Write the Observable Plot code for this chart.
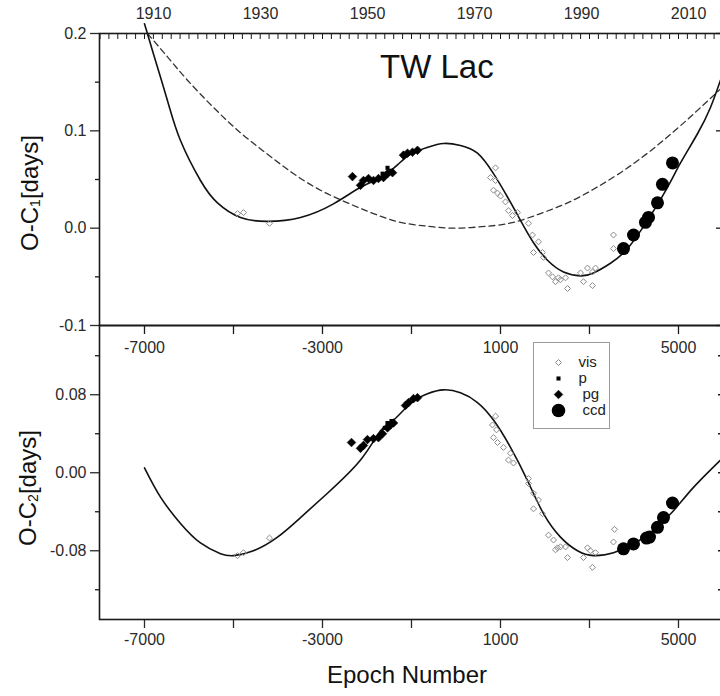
<!DOCTYPE html>
<html><head><meta charset="utf-8">
<script src="https://cdn.jsdelivr.net/npm/d3@7"></script>
<script src="https://cdn.jsdelivr.net/npm/@observablehq/plot@0.6"></script>
<style>
html,body{margin:0;padding:0;background:#fff;overflow:hidden;width:720px;height:696px;}
#root{position:relative;width:720px;height:696px;overflow:hidden;font-family:"Liberation Sans",Arial,sans-serif;color:#111;}
#root svg, #root svg text{font-family:"Liberation Sans",Arial,sans-serif !important;}
.abs{position:absolute;white-space:nowrap;}
.ytitle{font-size:24px;line-height:24px;transform:translate(-50%,-50%) rotate(-90deg);}
.ytitle sub{font-size:14px;vertical-align:-2px;}
</style></head><body><div id="root"></div>
<script>
// ---- data ----
const period = 3.0374;          // days
const yearZero = 1966.53;       // year of epoch 0
const years = [1910, 1930, 1950, 1970, 1990, 2010];
const epochTicks = [-7000, -5000, -3000, -1000, 1000, 3000, 5000];
const epochLabels = [-7000, -3000, 1000, 5000];
const yTicksTop = [-0.1, 0, 0.1, 0.2];
const yMinorTop = [-0.05, 0.05, 0.15];
const yTicksBot = [-0.08, 0, 0.08];
const yMinorBot = [-0.12, -0.04, 0.04, 0.12];

// O-C1 full fit (LTTE + quadratic)
const fit1E = [-7000,-6798,-6483,-6191,-5742,-5360,-4843,-4236,-3494,-2753,-2146,-1697,-1315,-1022,-640,-281,101,483,843,1157,1449,1742,2056,2416,2798,3090,3472,3854,4303,4753,5045,5427,5719,5944];
const fit1V = [0.210,0.179,0.131,0.090,0.049,0.026,0.011,0.007,0.011,0.025,0.042,0.052,0.065,0.076,0.083,0.087,0.085,0.077,0.056,0.032,0.008,-0.015,-0.033,-0.045,-0.049,-0.046,-0.036,-0.021,0.008,0.042,0.067,0.097,0.124,0.152];
// O-C1 quadratic term (dashed)
const quadE = [-6933,-6483,-6034,-5449,-4843,-4236,-3652,-3045,-2438,-1854,-1247,-640,-56,708,1292,1899,2506,3090,3697,4303,4888,5427,5944];
const quadV = [0.200,0.176,0.152,0.124,0.098,0.076,0.056,0.039,0.026,0.015,0.006,0.002,0.000,0.002,0.006,0.015,0.026,0.040,0.057,0.077,0.099,0.121,0.143];
// O-C2 LTTE fit
const fit2E = [-7000,-6640,-6191,-5742,-5292,-5000,-4551,-4011,-3494,-2888,-2146,-1697,-1404,-1022,-640,-281,101,483,843,1225,1607,1967,2348,2730,3090,3539,3989,4438,4888,5337,5944];
const fit2V = [0.005,-0.025,-0.052,-0.072,-0.083,-0.085,-0.080,-0.066,-0.046,-0.021,0.013,0.043,0.054,0.071,0.081,0.085,0.082,0.072,0.054,0.026,-0.008,-0.042,-0.066,-0.080,-0.085,-0.082,-0.073,-0.059,-0.039,-0.015,0.013];

// observed minima, O-C1
const vis1E = [-4910,-4775,-4191,888,775,888,843,933,1000,1112,1180,1270,1382,1629,1719,1854,1742,1944,1966,2079,2169,2236,2348,2303,2461,2506,2798,2865,2955,3067,3135,3067,3539,3539];
const vis1V = [0.015,0.016,0.005,0.062,0.052,0.049,0.039,0.036,0.033,0.027,0.018,0.013,0.016,0.005,-0.007,-0.014,-0.025,-0.025,-0.030,-0.046,-0.050,-0.055,-0.053,-0.051,-0.051,-0.062,-0.046,-0.055,-0.041,-0.045,-0.041,-0.059,-0.007,-0.021];
const p1E = [-1650,-1539,-1470];
const p1V = [0.056,0.062,0.059];
const pg1E = [-2326,-2146,-2079,-1966,-1854,-1742,-1629,-1539,-1427,-1180,-1090,-978,-865];
const pg1V = [0.053,0.044,0.049,0.051,0.049,0.051,0.052,0.056,0.057,0.075,0.077,0.078,0.080];
const ccd1E = [3764,3989,4258,4326,4528,4640,4865];
const ccd1V = [-0.021,-0.007,0.006,0.011,0.026,0.045,0.067];

// observed minima, O-C2
const vis2E = [-4910,-4775,-4191,888,820,910,843,933,1067,1225,1180,1292,1629,1629,1742,1854,1742,1944,2079,2191,2281,2348,2236,2461,2506,2865,2955,3022,3135,3067,3562,3539];
const vis2V = [-0.085,-0.082,-0.067,0.058,0.049,0.044,0.036,0.031,0.026,0.020,0.013,0.010,-0.006,-0.011,-0.021,-0.028,-0.037,-0.042,-0.064,-0.069,-0.077,-0.076,-0.079,-0.076,-0.087,-0.087,-0.077,-0.080,-0.082,-0.097,-0.058,-0.071];
const p2E = [-1600,-1539,-1450];
const p2V = [0.046,0.051,0.053];
const pg2E = [-2348,-2146,-2079,-1989,-1854,-1742,-1652,-1539,-1472,-1404,-1135,-1067,-955,-865];
const pg2V = [0.031,0.025,0.028,0.034,0.035,0.036,0.040,0.046,0.049,0.051,0.069,0.072,0.076,0.077];
const ccd2E = [3764,3989,4281,4348,4528,4663,4865];
const ccd2V = [-0.078,-0.073,-0.067,-0.066,-0.056,-0.046,-0.031];

const legendKeys = ["vis", "p", "pg", "ccd"];

// ---- helpers ----
const zip = (E, V) => E.map((e, i) => ({e, v: V[i]}));
const yearToEpoch = y => (y - yearZero) * 365.25 / period;
const xDomain = [-8011, 5989];
const ink = "#1a1a1a";
const baseStyle = {fontFamily: "Liberation Sans, Arial, sans-serif", fontSize: "16px", background: "transparent", overflow: "visible", maxWidth: "none", color: ink};

const visStyle = {symbol: "diamond2", r: 2.7, stroke: "#8a8a8a", strokeWidth: 1, fill: "none"};
const pStyle = {symbol: "square", r: 2.3, fill: "#000", stroke: "none"};
const pgStyle = {symbol: "diamond2", r: 3.9, fill: "#000", stroke: "#000", strokeWidth: 0.6};
const ccdStyle = {symbol: "circle", r: 6.5, fill: "#000", stroke: "none"};

function dataMarks(vis, p, pg, ccd) {
  return [
    Plot.dot(zip(...vis), {x: "e", y: "v", ...visStyle}),
    Plot.dot(zip(...p), {x: "e", y: "v", ...pStyle}),
    Plot.dot(zip(...pg), {x: "e", y: "v", ...pgStyle}),
    Plot.dot(zip(...ccd), {x: "e", y: "v", ...ccdStyle})
  ];
}

const root = document.getElementById("root");

// ---- top panel: O-C1 ----
const topPlot = Plot.plot({
  width: 724, height: 335,
  marginTop: 33, marginBottom: 10, marginLeft: 99, marginRight: 2,
  style: baseStyle,
  x: {domain: xDomain},
  y: {domain: [-0.1, 0.2]},
  marks: [
    Plot.axisY(yTicksTop, {anchor: "left", tickSize: 9, tickPadding: 4, strokeWidth: 1.3, color: "#2a2a2a", fontSize: 16, tickFormat: d => d.toFixed(1), label: null}),
    Plot.axisY(yMinorTop, {anchor: "left", tickSize: 4, strokeWidth: 1.3, color: ink, tickFormat: () => "", label: null}),
    Plot.axisY(yTicksTop, {anchor: "right", tickSize: -7, strokeWidth: 1.3, color: ink, tickFormat: () => "", label: null}),
    Plot.axisY(yMinorTop, {anchor: "right", tickSize: -3, strokeWidth: 1.3, color: ink, tickFormat: () => "", label: null}),
    Plot.axisX(d3.range(-8000, 6000, 200), {anchor: "top", tickSize: -5, strokeWidth: 1, color: ink, tickFormat: () => "", label: null}),
    Plot.text(years, {x: yearToEpoch, text: d => String(d), frameAnchor: "top", lineAnchor: "middle", dy: -20, fontSize: 16, fill: "#2a2a2a"}),
    Plot.line(zip(quadE, quadV), {x: "e", y: "v", curve: "natural", stroke: "#333", strokeWidth: 1.3, strokeDasharray: "6,4"}),
    Plot.line(zip(fit1E, fit1V), {x: "e", y: "v", curve: "natural", stroke: "#111", strokeWidth: 1.6}),
    ...dataMarks([vis1E, vis1V], [p1E, p1V], [pg1E, pg1V], [ccd1E, ccd1V]),
    Plot.frame({stroke: ink, strokeWidth: 1.6})
  ]
});
topPlot.style.position = "absolute"; topPlot.style.left = "0px"; topPlot.style.top = "0px";
root.appendChild(topPlot);

// ---- bottom panel: O-C2 ----
const botPlot = Plot.plot({
  width: 724, height: 396,
  marginTop: 25, marginBottom: 77, marginLeft: 99, marginRight: 2,
  style: baseStyle,
  x: {domain: xDomain},
  y: {domain: [-0.1505, 0.151]},
  marks: [
    Plot.axisY(yTicksBot, {anchor: "left", tickSize: 9, tickPadding: 4, strokeWidth: 1.3, color: "#2a2a2a", fontSize: 16, tickFormat: d => d.toFixed(2), label: null}),
    Plot.axisY(yMinorBot, {anchor: "left", tickSize: 4, strokeWidth: 1.3, color: ink, tickFormat: () => "", label: null}),
    Plot.axisY(yTicksBot.concat(yMinorBot), {anchor: "right", tickSize: -5, strokeWidth: 1.3, color: ink, tickFormat: () => "", label: null}),
    Plot.axisX(epochTicks, {anchor: "top", tickSize: -8, strokeWidth: 1.3, color: ink, tickFormat: () => "", label: null}),
    Plot.text(epochLabels, {x: d => d, text: d => String(d), frameAnchor: "top", lineAnchor: "middle", dy: 22, fontSize: 16, fill: "#2a2a2a"}),
    Plot.axisX(epochTicks, {anchor: "bottom", tickSize: 9, tickPadding: 5, strokeWidth: 1.3, color: "#2a2a2a", fontSize: 16, tickFormat: d => epochLabels.includes(d) ? String(d) : "", label: null}),
    Plot.line(zip(fit2E, fit2V), {x: "e", y: "v", curve: "natural", stroke: "#111", strokeWidth: 1.6}),
    ...dataMarks([vis2E, vis2V], [p2E, p2V], [pg2E, pg2V], [ccd2E, ccd2V]),
    Plot.frame({stroke: ink, strokeWidth: 1.6})
  ]
});
botPlot.style.position = "absolute"; botPlot.style.left = "0px"; botPlot.style.top = "300px";
root.appendChild(botPlot);

// ---- legend ----
const legendStyle = {vis: visStyle, p: pStyle, pg: pgStyle, ccd: ccdStyle};
const legPlot = Plot.plot({
  width: 76, height: 86, margin: 0,
  style: {...baseStyle, fontSize: "15px"},
  x: {domain: [0, 76], axis: null},
  y: {type: "point", domain: legendKeys, range: [11, 76], axis: null},
  marks: [
    Plot.frame({stroke: "#9a9a9a", strokeWidth: 1}),
    ...legendKeys.map(k => Plot.dot([k], {x: () => 25, y: d => d, ...legendStyle[k], r: k === "ccd" ? 6.8 : legendStyle[k].r})),
    Plot.text(legendKeys, {x: d => (d === "pg" || d === "ccd") ? 49 : 45, y: d => d, text: d => d, textAnchor: "start", fontSize: 15, fill: "#222"})
  ]
});
legPlot.style.position = "absolute"; legPlot.style.left = "533px"; legPlot.style.top = "342px";
root.appendChild(legPlot);

// ---- titles ----
function addDiv(html, css, cls) {
  const d = document.createElement("div");
  d.className = "abs" + (cls ? " " + cls : "");
  d.innerHTML = html;
  Object.assign(d.style, css);
  root.appendChild(d);
}
addDiv("TW Lac", {left: "380px", top: "50px", fontSize: "33px", lineHeight: "33px"});
addDiv("O-C<sub>1</sub>[days]", {left: "32px", top: "193px"}, "ytitle");
addDiv("O-C<sub>2</sub>[days]", {left: "30px", top: "488px"}, "ytitle");
addDiv("Epoch Number", {left: "407px", top: "663px", fontSize: "24px", lineHeight: "24px", transform: "translateX(-50%)"});
</script>
</body></html>
